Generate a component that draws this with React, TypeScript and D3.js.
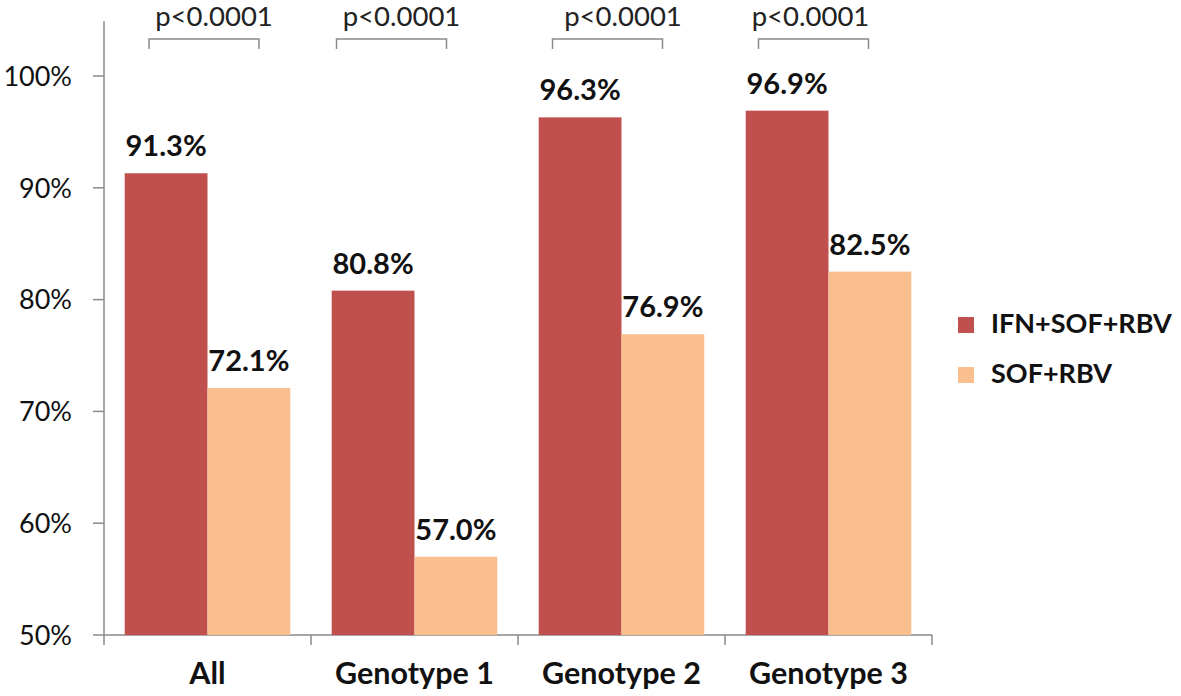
import * as d3 from 'd3'

const categories = ['All', 'Genotype 1', 'Genotype 2', 'Genotype 3']
const seriesNames = ['IFN+SOF+RBV', 'SOF+RBV']
const ifnValues = [91.3, 80.8, 96.3, 96.9]
const sofValues = [72.1, 57.0, 76.9, 82.5]
const yTicks = [50, 60, 70, 80, 90, 100]
const pLabels = ['p<0.0001', 'p<0.0001', 'p<0.0001', 'p<0.0001']
const colors = ['#C0504D', '#F9BF8F']

const W = 1181
const H = 696
const FONT = 'Lato, "Open Sans", sans-serif'

// brackets were placed by hand in the original, not quite centred on each group
const bracketShift = [-3.5, -23, -14, -15]
const pTextShift = [6.5, -13, 1.5, -18]

export default function App() {
  const left = 104
  const right = 932
  const x = d3.scaleBand().domain(categories).range([left, right]).paddingInner(0.2).paddingOuter(0.1)
  const x1 = d3.scaleBand().domain(seriesNames).range([0, x.bandwidth()])
  const y = d3.scaleLinear().domain([50, 100]).range([635, 76])
  const series = [ifnValues, sofValues]
  const step = x.step()

  return (
    <svg width={W} height={H} style={{ position: 'absolute', left: 0, top: 0, background: '#fff' }}>
      {/* y axis */}
      <line x1={left} x2={left} y1={y(104.9)} y2={y(50)} stroke="#8a8a8a" strokeWidth={1.5} />
      {yTicks.map(t => (
        <g key={t}>
          <line x1={left - 11} x2={left} y1={y(t)} y2={y(t)} stroke="#8a8a8a" strokeWidth={1.5} />
          <text x={left - 32} y={y(t)} dy="0.36em" textAnchor="end" fontFamily={FONT} fontSize={27} fill="#111">{t}%</text>
        </g>
      ))}
      {/* x axis */}
      <line x1={left} x2={right} y1={y(50)} y2={y(50)} stroke="#8a8a8a" strokeWidth={1.5} />
      {d3.range(categories.length + 1).map(i => (
        <line key={i} x1={left + i * step} x2={left + i * step} y1={y(50)} y2={y(50) + 10} stroke="#8a8a8a" strokeWidth={1.5} />
      ))}
      {categories.map(c => (
        <text key={c} x={x(c)! + x.bandwidth() / 2} y={684} textAnchor="middle" fontFamily={FONT} fontWeight="bold" fontSize={30.5} fill="#111">{c}</text>
      ))}
      {/* bars */}
      {categories.map((c, i) => {
        const cx = x(c)! + x.bandwidth() / 2
        const bc = cx + bracketShift[i]
        return (
          <g key={c}>
            {series.map((vals, s) => {
              const bx = x(c)! + x1(seriesNames[s])!
              return (
                <g key={s}>
                  <rect x={bx} y={y(vals[i])} width={x1.bandwidth()} height={y(50) - y(vals[i])} fill={colors[s]} />
                  <text x={bx + x1.bandwidth() / 2} y={y(vals[i]) - 17} textAnchor="middle" fontFamily={FONT} fontWeight="bold" fontSize={29} fill="#111">{vals[i].toFixed(1)}%</text>
                </g>
              )
            })}
            {/* significance bracket */}
            <path d={`M${bc - 55},49 V39 H${bc + 55} V49`} fill="none" stroke="#8a8a8a" strokeWidth={1.5} />
            <text x={cx + pTextShift[i]} y={26} textAnchor="middle" fontFamily={FONT} fontSize={27.5} fill="#222">{pLabels[i]}</text>
          </g>
        )
      })}
      {/* legend */}
      {seriesNames.map((n, s) => (
        <g key={n} transform={`translate(958,${317 + s * 50})`}>
          <rect width={16} height={16} fill={colors[s]} />
          <text x={33} y={16} fontFamily={FONT} fontWeight="bold" fontSize={27} fill="#111">{n}</text>
        </g>
      ))}
    </svg>
  )
}
